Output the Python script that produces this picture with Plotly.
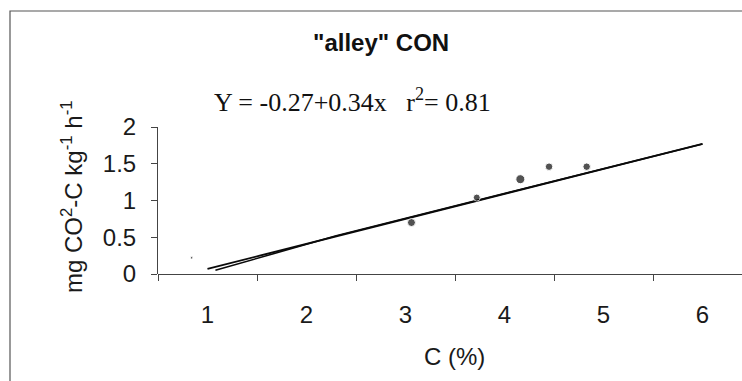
import plotly.graph_objects as go

# Measured respiration vs. soil carbon
c_pct = [0.84, 3.06, 3.72, 4.16, 4.45, 4.83]
resp = [0.22, 0.70, 1.04, 1.29, 1.46, 1.46]
marker_sizes = [2.5, 8, 7, 9, 7.5, 7.5]

# Fitted regression (stated in the equation label)
intercept = -0.27
slope = 0.34
r2 = 0.81
fit_x = [1.0, 6.0]
fit_y = [intercept + slope * x for x in fit_x]

# Second, nearly coincident trend line
trend_x = [1.08, 2.3, 6.0]
trend_y = [0.05, 0.52, 1.77]

x_tick_labels = ["1", "2", "3", "4", "5", "6"]
y_tick_vals = [0, 0.5, 1, 1.5, 2]
y_tick_labels = ["0", "0.5", "1", "1.5", "2"]

W, H = 742, 381
L, R, T, B = 158, 0, 127, 107
PW, PH = W - L - R, H - T - B


def px(x):
    return (x - L) / PW


def py(y):
    return (H - B - y) / PH


fig = go.Figure()

fig.add_trace(go.Scatter(x=fit_x, y=fit_y, mode="lines",
                         line=dict(color="#0a0a0a", width=1.9),
                         showlegend=False, hoverinfo="skip"))
fig.add_trace(go.Scatter(x=trend_x, y=trend_y, mode="lines",
                         line=dict(color="#0a0a0a", width=1.6),
                         showlegend=False, hoverinfo="skip"))
fig.add_trace(go.Scatter(x=c_pct, y=resp, mode="markers",
                         marker=dict(color="#0a0a0a", size=marker_sizes),
                         showlegend=False))

axis_font = dict(family="Liberation Sans, Arial", size=24, color="#1a1a1a")

fig.update_xaxes(
    range=[0.5, 0.5 + PW / 99.0],
    tickvals=[1, 2, 3, 4, 5, 6],
    ticktext=x_tick_labels,
    ticks="",
    tickfont=axis_font,
    ticklabelstandoff=24,
    minor=dict(tick0=0.5, dtick=1, ticks="outside", ticklen=6,
               tickcolor="#444444", tickwidth=1),
    showgrid=False, zeroline=False,
    showline=False,
)
fig.update_yaxes(
    range=[0, 2],
    tickvals=y_tick_vals,
    ticktext=y_tick_labels,
    ticks="outside", ticklen=6, tickcolor="#444444",
    tickfont=axis_font,
    ticklabelstandoff=10,
    showgrid=False, zeroline=True, zerolinecolor="#444444", zerolinewidth=1.2,
    showline=True, linecolor="#444444", linewidth=1,
)

# Outer chart-area frame
fig.add_shape(type="rect", xref="paper", yref="paper",
              x0=px(10), x1=px(760), y0=py(400), y1=py(11),
              line=dict(color="#555555", width=1.2), layer="below")

centered = dict(xref="paper", yref="paper", showarrow=False,
                xanchor="center", yanchor="middle")

fig.add_annotation(text='<b>"alley" CON</b>', x=px(381), y=py(42),
                   font=dict(family="Liberation Sans, Arial", size=24, color="#111111"),
                   **centered)
fig.add_annotation(text=f"Y = {intercept:.2f}+{slope:.2f}x   r<sup>2</sup>= {r2:.2f}",
                   x=px(352), y=py(100),
                   font=dict(family="Liberation Serif, Times New Roman", size=26, color="#111111"),
                   **centered)
fig.add_annotation(text="mg CO<sup>2</sup>-C kg<sup>-1</sup> h<sup>-1</sup>",
                   x=px(72), y=py(197), textangle=-90, font=axis_font, **centered)
fig.add_annotation(text="C (%)", x=px(454), y=py(356), font=axis_font, **centered)

fig.update_layout(
    width=W, height=H,
    margin=dict(l=L, r=R, t=T, b=B),
    plot_bgcolor="white", paper_bgcolor="white",
)

fig.write_html("out.html")
